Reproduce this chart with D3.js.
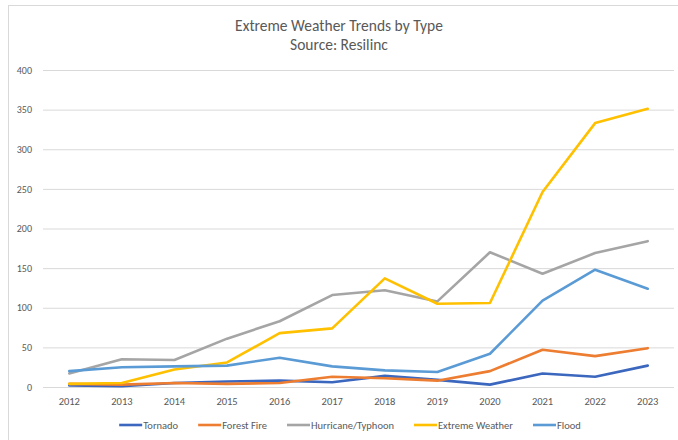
<!DOCTYPE html>
<html>
<head>
<meta charset="utf-8">
<script src="https://cdn.jsdelivr.net/npm/d3@7"></script>
<style>
  html, body { margin: 0; padding: 0; background: #ffffff; }
  svg { display: block; font-family: Carlito, Calibri, Lato, "Open Sans", sans-serif; }
</style>
</head>
<body>
<svg id="chart" width="678" height="440"></svg>
<script>
// Reported extreme weather events per year, by type
const years = ["2012","2013","2014","2015","2016","2017","2018","2019","2020","2021","2022","2023"];
const tornado        = [2, 1, 5, 7, 8, 6, 14, 9, 3, 17, 13, 27];
const forestFire     = [4, 3, 5, 4, 5, 13, 11, 8, 20, 47, 39, 49];
const hurricane      = [17, 35, 34, 61, 83, 116, 122, 108, 170, 143, 169, 184];
const extremeWeather = [4, 5, 22, 31, 68, 74, 137, 105, 106, 246, 333, 351];
const flood          = [20, 25, 26, 27, 37, 26, 21, 19, 42, 109, 148, 124];
const yTicks = [0, 50, 100, 150, 200, 250, 300, 350, 400];

const seriesNames  = ["Tornado", "Forest Fire", "Hurricane/Typhoon", "Extreme Weather", "Flood"];
const seriesValues = [tornado, forestFire, hurricane, extremeWeather, flood];
const seriesColors = ["#3C67BE", "#ED7D31", "#A5A5A5", "#FFC000", "#5B9BD5"];

const svg = d3.select("#chart");
const W = 678, H = 440;
const plot = { left: 43, right: 674, top: 70, bottom: 387 };
const textColor = "#595959";
const gridColor = "#d9d9d9";
const tickFont = 10.5;

// Chart area frame
svg.append("rect")
  .attr("x", 8.5).attr("y", 5.5)
  .attr("width", W).attr("height", H)
  .attr("fill", "#ffffff")
  .attr("stroke", "#d9d9d9");

// Title
const title = svg.append("text")
  .attr("x", 339).attr("y", 31)
  .attr("text-anchor", "middle")
  .attr("fill", textColor)
  .attr("font-size", 15.5);
title.append("tspan").attr("x", 339).attr("dy", 0).text("Extreme Weather Trends by Type");
title.append("tspan").attr("x", 339).attr("dy", 19).text("Source: Resilinc");

const x = d3.scaleBand().domain(years).range([plot.left, plot.right]);
const xc = d => x(d) + x.bandwidth() / 2;
const y = d3.scaleLinear().domain([0, 400]).range([plot.bottom, plot.top]);

// Y axis: horizontal gridlines with value labels
const yAxis = d3.axisLeft(y)
  .tickValues(yTicks)
  .tickSize(-(plot.right - plot.left))
  .tickPadding(11)
  .tickFormat(d3.format("d"));
const gy = svg.append("g")
  .attr("transform", `translate(${plot.left},0)`)
  .call(yAxis);
gy.select(".domain").remove();
gy.selectAll(".tick line").attr("stroke", gridColor).attr("stroke-width", 1);
gy.selectAll(".tick text")
  .attr("fill", textColor)
  .attr("font-size", 10)
  .attr("font-family", "Carlito, Calibri, Lato, sans-serif");

// X axis: year labels only
const xAxis = d3.axisBottom(x).tickSize(0).tickPadding(11);
const gx = svg.append("g")
  .attr("transform", `translate(0,${plot.bottom})`)
  .call(xAxis);
gx.select(".domain").remove();
gx.selectAll(".tick text")
  .attr("fill", textColor)
  .attr("font-size", tickFont)
  .attr("font-family", "Carlito, Calibri, Lato, sans-serif");

// Series lines, drawn in series order
const line = d3.line()
  .x((d, i) => xc(years[i]))
  .y(d => y(d));

svg.append("g").selectAll("path")
  .data(seriesValues)
  .join("path")
  .attr("d", d => line(d))
  .attr("fill", "none")
  .attr("stroke", (d, i) => seriesColors[i])
  .attr("stroke-width", 2.6)
  .attr("stroke-linejoin", "round")
  .attr("stroke-linecap", "round");

// Legend
const legend = svg.append("g").attr("transform", "translate(0,425)");
const items = [];
seriesNames.forEach((name, i) => {
  const g = legend.append("g");
  g.append("line")
    .attr("x1", 0).attr("x2", 23)
    .attr("y1", 0).attr("y2", 0)
    .attr("stroke", seriesColors[i])
    .attr("stroke-width", 2.6);
  const t = g.append("text")
    .attr("x", 24).attr("y", 3.8)
    .attr("fill", textColor)
    .attr("font-size", tickFont)
    .text(name);
  const w = 24 + t.node().getComputedTextLength();
  items.push({ g, w });
});
const gap = 20;
const total = d3.sum(items, d => d.w) + gap * (items.length - 1);
let lx = 350 - total / 2;
items.forEach(it => {
  it.g.attr("transform", `translate(${lx},0)`);
  lx += it.w + gap;
});
</script>
</body>
</html>
